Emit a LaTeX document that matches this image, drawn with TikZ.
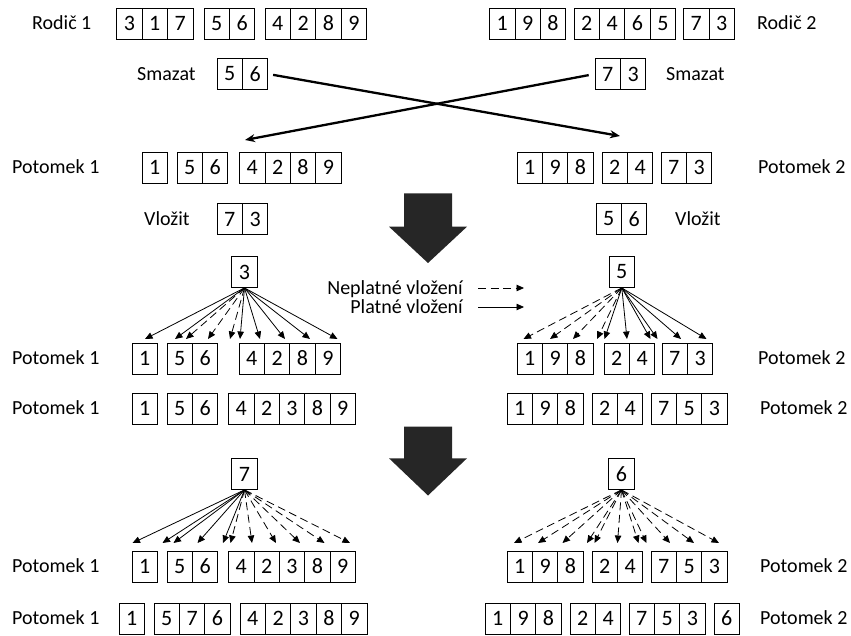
\documentclass[tikz,border=0pt]{standalone}
\usepackage{fontspec}
\setmainfont{Carlito}
\usetikzlibrary{arrows.meta}

% width of one gene cell
\newcommand\cw{25.4}
% a group of adjacent gene cells: name, left x, centre y, digits
\newcommand\cellgroup[4]{%
  \foreach \d [count=\i] in {#4}{\node[cell] (#1-\i) at ({#2+(\i-0.5)*\cw},#3) {\d};}}
% a fan of insertion arrows: prefix, source node, tip y, list of x/style
\newcommand\insfan[4]{%
  \foreach \x/\s [count=\k] in {#4}{%
    \coordinate (#1-\k) at (\x,#3);
    \draw[\s] (#2.south) -- (#1-\k);}}

\begin{document}
\begin{tikzpicture}[x=1pt,y=-1pt,
  every node/.style={font=\fontsize{20}{23}\selectfont},
  cell/.style={draw, line width=0.8pt, minimum width=25.4pt, minimum height=31pt, inner sep=0pt,
    font=\fontsize{22}{24}\selectfont},
  lab/.style={anchor=base west, inner sep=0pt},
  platne/.style={line width=0.8pt, -{Triangle[length=7.5pt,width=6.5pt]}},
  neplatne/.style={platne, dash pattern=on 8pt off 4.5pt},
  swap/.style={line width=2.3pt, -{Stealth[length=10pt,width=8pt]}},
  block/.style={fill=black!85}]
\useasboundingbox (0,0) rectangle (851,636);

% parents
\node[lab] (rod1) at (32,29.8) {Rodič 1};
\cellgroup{pa}{116.7}{23.5}{3,1,7}
\cellgroup{pb}{204}{23.5}{5,6}
\cellgroup{pc}{265}{23.5}{4,2,8,9}
\cellgroup{qa}{489.5}{23.5}{1,9,8}
\cellgroup{qb}{574}{23.5}{2,4,6,5}
\cellgroup{qc}{683.5}{23.5}{7,3}
\node[lab] (rod2) at (757,29.8) {Rodič 2};

% removed segments
\node[lab] (sm1) at (137,80.3) {Smazat};
\cellgroup{da}{217}{74}{5,6}
\cellgroup{db}{595}{74}{7,3}
\node[lab] (sm2) at (666,80.3) {Smazat};

% offspring after removal
\node[lab] (p1a) at (12,173.8) {Potomek 1};
\cellgroup{ka}{142}{167.5}{1}
\cellgroup{kb}{177}{167.5}{5,6}
\cellgroup{kc}{239.5}{167.5}{4,2,8,9}
\cellgroup{la}{517}{167.5}{1,9,8}
\cellgroup{lb}{602}{167.5}{2,4}
\cellgroup{lc}{661}{167.5}{7,3}
\node[lab] (p2a) at (758,173.8) {Potomek 2};

% exchange of removed segments
\coordinate (x1) at (620,136);
\coordinate (x2) at (245,140);
\draw[swap, shorten <=5pt] (da-2.east) -- (x1);
\draw[swap, shorten <=6pt] (db-1.west) -- (x2);

% segments to insert
\node[lab] (vl1) at (144,225.3) {Vložit};
\cellgroup{va}{217}{219}{7,3}
\cellgroup{vb}{596}{219}{5,6}
\node[lab] (vl2) at (675,225.3) {Vložit};

% block arrows
\fill[block] (404,193.3) -- (452,193.3) -- (452,226.7) -- (467,226.7) -- (428,263)
  -- (389,226.7) -- (404,226.7) -- cycle;
\fill[block] (404,426.7) -- (452,426.7) -- (452,458.3) -- (467,458.3) -- (428,495.5)
  -- (389,458.3) -- (404,458.3) -- cycle;

% first insertion step
\node[cell] (s3) at (244.5,272) {3};
\node[cell] (s5) at (621.8,272) {5};
\insfan{fa}{s3}{339}{145/platne,175/platne,186/neplatne,208/neplatne,230/neplatne,240/platne,260/platne,285/platne,310/platne,337.5/platne}
\insfan{fb}{s5}{339}{523.5/neplatne,550/neplatne,573/neplatne,597/neplatne,604.5/platne,627/platne,650.5/platne,657.5/platne,681/platne,706.5/platne}

% legend
\node[anchor=base east, inner sep=0pt] (leg1) at (463,294.3) {Neplatné vložení};
\node[anchor=base east, inner sep=0pt] (leg2) at (463,313.3) {Platné vložení};
\coordinate (la1) at (478,288);
\coordinate (lb1) at (524,288);
\coordinate (la2) at (478,307);
\coordinate (lb2) at (524,307);
\draw[neplatne] (la1) -- (lb1);
\draw[platne] (la2) -- (lb2);

\node[lab] (p1b) at (12,364.8) {Potomek 1};
\cellgroup{ma}{132}{358.5}{1}
\cellgroup{mb}{167}{358.5}{5,6}
\cellgroup{mc}{239}{358.5}{4,2,8,9}
\cellgroup{na}{517}{358.5}{1,9,8}
\cellgroup{nb}{604}{358.5}{2,4}
\cellgroup{nc}{662}{358.5}{7,3}
\node[lab] (p2b) at (758,364.8) {Potomek 2};

\node[lab] (p1c) at (12,414.8) {Potomek 1};
\cellgroup{oa}{132}{408.5}{1}
\cellgroup{ob}{167}{408.5}{5,6}
\cellgroup{oc}{228.5}{408.5}{4,2,3,8,9}
\cellgroup{ra}{507}{408.5}{1,9,8}
\cellgroup{rb}{592}{408.5}{2,4}
\cellgroup{rc}{651}{408.5}{7,5,3}
\node[lab] (p2c) at (760,414.8) {Potomek 2};

% second insertion step
\node[cell] (s7) at (244.5,474) {7};
\node[cell] (s6) at (621.5,474) {6};
\insfan{fc}{s7}{543}{132.5/platne,162.5/platne,173.5/platne,197.5/platne,223/platne,230.5/neplatne,252/neplatne,276/neplatne,300/neplatne,324.5/neplatne,350/neplatne}
\insfan{fd}{s6}{543}{514/neplatne,538/neplatne,562.5/neplatne,587/neplatne,594.5/neplatne,617.5/neplatne,638.5/neplatne,646.5/neplatne,670/neplatne,694/neplatne,719/neplatne}

\node[lab] (p1d) at (12,572.8) {Potomek 1};
\cellgroup{ta}{132}{566.5}{1}
\cellgroup{tb}{167}{566.5}{5,6}
\cellgroup{tc}{228.5}{566.5}{4,2,3,8,9}
\cellgroup{ua}{507}{566.5}{1,9,8}
\cellgroup{ub}{592}{566.5}{2,4}
\cellgroup{uc}{651}{566.5}{7,5,3}
\node[lab] (p2d) at (760,572.8) {Potomek 2};

% final offspring
\node[lab] (p1e) at (12,624.8) {Potomek 1};
\cellgroup{wa}{119}{618.5}{1}
\cellgroup{wb}{154}{618.5}{5,7,6}
\cellgroup{wc}{240}{618.5}{4,2,3,8,9}
\cellgroup{ya}{485}{618.5}{1,9,8}
\cellgroup{yb}{570}{618.5}{2,4}
\cellgroup{yc}{629}{618.5}{7,5,3}
\cellgroup{yd}{714}{618.5}{6}
\node[lab] (p2e) at (760,624.8) {Potomek 2};
\end{tikzpicture}
\end{document}
